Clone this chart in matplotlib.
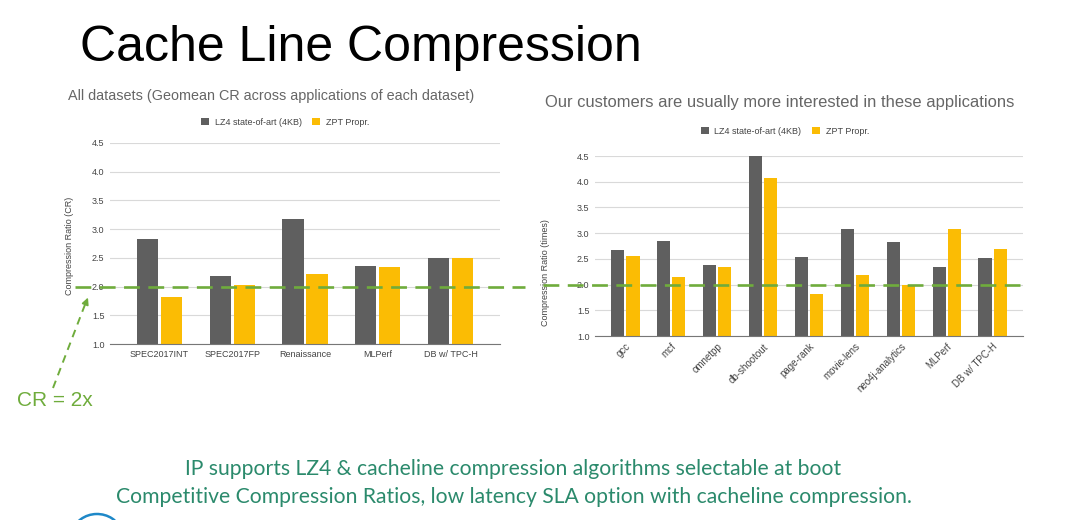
import matplotlib.pyplot as plt
import numpy as np
from matplotlib.patches import Arc

# --- data ---
left_cats = ['SPEC2017INT', 'SPEC2017FP', 'Renaissance', 'MLPerf', 'DB w/ TPC-H']
left_lz4 = [2.82, 2.19, 3.18, 2.35, 2.49]
left_zpt = [1.82, 2.03, 2.22, 2.34, 2.49]

right_cats = ['gcc', 'mcf', 'omnetpp', 'db-shootout', 'page-rank', 'movie-lens',
              'neo4j-analytics', 'MLPerf', 'DB w/ TPC-H']
right_lz4 = [2.67, 2.85, 2.38, 4.50, 2.53, 3.08, 2.83, 2.35, 2.51]
right_zpt = [2.56, 2.15, 2.35, 4.08, 1.81, 2.19, 2.00, 3.09, 2.70]

y_ticks = [1.0, 1.5, 2.0, 2.5, 3.0, 3.5, 4.0, 4.5]
cr_target = 2.0

GRAY = '#5f5f5f'
YELLOW = '#fbbc04'
GREEN = '#6fac3c'
TEAL = '#2b8a6c'

plt.rcParams['font.family'] = ['Liberation Sans', 'DejaVu Sans']

W, H = 1080, 520
fig = plt.figure(figsize=(W / 100, H / 100), dpi=100)


def px(x0, y0, x1, y1):
    # pixel box (top-left origin) -> figure fraction rect
    return [x0 / W, 1 - y1 / H, (x1 - x0) / W, (y1 - y0) / H]


def bar_chart(ax, cats, lz4, zpt, xlim, ylabel, label_xy, legend_xy, rotate):
    x = np.arange(len(cats))
    w = 0.29
    ax.bar(x - 0.165, lz4, w, color=GRAY, label='LZ4 state-of-art (4KB)', zorder=2)
    ax.bar(x + 0.165, zpt, w, color=YELLOW, label='ZPT Propr.', zorder=2)
    ax.set_xlim(*xlim)
    ax.set_ylim(1.0, 4.5)
    ax.set_yticks(y_ticks)
    ax.set_yticklabels([f'{t:.1f}' for t in y_ticks])
    ax.grid(axis='y', color='#d9d9d9', linewidth=0.8, zorder=0)
    for s in ['top', 'right', 'left']:
        ax.spines[s].set_visible(False)
    ax.spines['bottom'].set_color('#777777')
    ax.spines['bottom'].set_zorder(3)
    ax.tick_params(axis='both', length=0, labelsize=6.5, colors='#444444', pad=4)
    ax.set_xticks(x)
    if rotate:
        ax.set_xticklabels(cats, rotation=45, ha='right', rotation_mode='anchor',
                           fontsize=7)
    else:
        ax.set_xticklabels(cats)
    ax.set_ylabel(ylabel, fontsize=6.5, color='#444444')
    ax.yaxis.set_label_coords(*label_xy)
    ax.legend(loc='center', bbox_to_anchor=legend_xy, ncol=2, frameon=False,
              fontsize=6.5, handlelength=0.9, handleheight=0.9, columnspacing=1.2,
              handletextpad=0.6, labelcolor='#444444')


ax1 = fig.add_axes(px(110, 143, 500, 344))
bar_chart(ax1, left_cats, left_lz4, left_zpt, (-0.68, 4.68),
          'Compression Ratio (CR)', (-0.092, 0.49), (0.449, 1.104), False)
ax1.axhline(cr_target, xmin=-0.09, xmax=1.064, clip_on=False, color=GREEN,
            linewidth=1.9, dashes=(6, 3.2), zorder=4)

ax2 = fig.add_axes(px(595, 156, 1023, 336))
bar_chart(ax2, right_cats, right_lz4, right_zpt, (-0.66, 8.66),
          'Compression Ratio (times)', (-0.105, 0.35), (0.444, 1.137), True)
ax2.axhline(cr_target, xmin=-0.121, xmax=0.993, clip_on=False, color=GREEN,
            linewidth=1.9, dashes=(6, 3.2), zorder=4)

# titles
fig.text(80 / W, 1 - 48 / H, 'Cache Line Compression', fontsize=36,
         color='black', ha='left', va='center')
fig.text(68 / W, 1 - 96 / H,
         'All datasets (Geomean CR across applications of each dataset)',
         fontsize=10.35, color='#666666', ha='left', va='center')
fig.text(545 / W, 1 - 102 / H,
         'Our customers are usually more interested in these applications',
         fontsize=11.9, color='#666666', ha='left', va='center')

# CR = 2x callout
fig.add_artist(plt.Line2D([53 / W, 86 / W], [1 - 388 / H, 1 - 302 / H],
                          color=GREEN, linewidth=1.4, dashes=(4, 3)))
ax1.annotate('', xy=(89 / W, 1 - 295 / H), xytext=(85 / W, 1 - 305 / H),
             xycoords='figure fraction', textcoords='figure fraction',
             arrowprops=dict(arrowstyle='-|>', color=GREEN, lw=1.2,
                             mutation_scale=10))
fig.text(17 / W, 1 - 400 / H, 'CR = 2x', fontsize=15, color=GREEN,
         ha='left', va='center')

# bottom notes
fig.text(513 / W, 1 - 469 / H,
         'IP supports LZ4 & cacheline compression algorithms selectable at boot',
         fontsize=15.2, color=TEAL, ha='center', va='center', family='Lato')
fig.text(514 / W, 1 - 497 / H,
         'Competitive Compression Ratios, low latency SLA option with cacheline compression.',
         fontsize=15.2, color=TEAL, ha='center', va='center', family='Lato')

# clipped logo arc at bottom-left corner
fig.add_artist(Arc((97 / W, 1 - 536 / H), 50 / W, 44 / H, theta1=25, theta2=160,
                   color='#1e88c8', linewidth=1.8, transform=fig.transFigure))

fig.savefig('out.png', dpi=100)
